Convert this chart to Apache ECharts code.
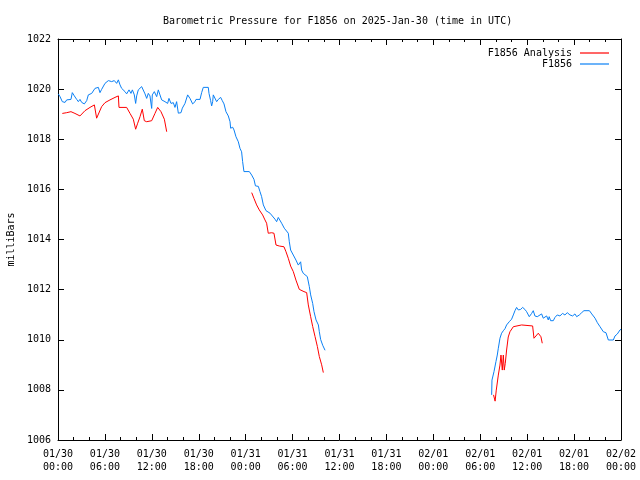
<!DOCTYPE html>
<html>
<head>
<meta charset="utf-8">
<script src="https://cdn.jsdelivr.net/npm/echarts@6/dist/echarts.min.js"></script>
<style>html,body{margin:0;padding:0;background:#fff}#c{width:640px;height:480px}</style>
</head>
<body>
<div id="c"></div>
<script>
// hours since 2025-01-30 00:00 UTC
var tickLabels = ['01/30\n00:00','01/30\n06:00','01/30\n12:00','01/30\n18:00','01/31\n00:00','01/31\n06:00','01/31\n12:00','01/31\n18:00','02/01\n00:00','02/01\n06:00','02/01\n12:00','02/01\n18:00','02/02\n00:00'];

var blueHours = [0.04,0.26,0.55,0.90,1.11,1.66,1.83,2.09,2.39,2.60,2.81,3.03,3.37,3.67,3.88,4.31,4.73,4.94,5.16,5.37,5.58,6.01,6.44,6.65,6.86,7.20,7.50,7.72,7.93,8.14,8.57,8.78,9.08,9.33,9.51,9.76,9.93,10.06,10.27,10.49,10.70,10.91,11.13,11.34,11.55,11.76,11.98,12.06,12.32,12.62,12.83,13.04,13.26,13.68,14.02,14.19,14.45,14.75,14.96,15.17,15.39,15.73,15.90,16.03,16.24,16.58,16.88,17.22,17.52,17.65,18.16,18.37,18.58,19.22,19.31,19.52,19.65,19.78,19.86,20.08,20.29,20.50,20.80,21.01,21.23,21.48,21.78,22.00,22.08,22.34,22.51,22.76,23.06,23.27,23.48,23.61,23.78,24.47,24.77,24.98,25.06,25.25,25.62,25.83,26.04,26.26,26.60,27.11,27.32,27.75,27.96,28.17,28.39,28.60,28.94,29.45,29.58,29.75,30.09,30.43,30.73,31.03,31.16,31.37,31.88,32.14,32.31,32.57,32.74,33.00,33.30,33.42,33.59,33.85,34.15,
  45.00,
  55.46,55.50,55.76,56.01,56.18,56.31,56.52,56.73,56.95,57.16,57.37,57.71,58.01,58.23,58.44,58.65,58.86,59.16,59.42,59.71,59.93,60.27,60.57,60.78,60.99,61.29,61.85,62.06,62.49,62.70,62.82,63.00,63.34,63.55,63.85,64.19,64.53,64.83,65.13,65.47,65.81,66.11,66.33,66.67,66.97,67.26,67.96,68.26,68.68,68.98,69.32,69.74,70.08,70.38,71.02,71.23,71.53,71.87,72.00];
var bluePressure = [1019.81,1019.70,1019.50,1019.47,1019.57,1019.59,1019.86,1019.73,1019.59,1019.50,1019.59,1019.47,1019.41,1019.54,1019.77,1019.83,1020.03,1019.97,1020.07,1019.86,1019.99,1020.23,1020.34,1020.39,1020.30,1020.34,1020.23,1020.37,1020.17,1020.03,1019.90,1019.81,1019.97,1019.83,1019.97,1019.77,1019.43,1019.73,1019.97,1020.03,1020.10,1020.03,1019.81,1019.63,1019.83,1019.73,1019.23,1019.77,1019.90,1019.70,1019.97,1019.77,1019.57,1019.50,1019.43,1019.63,1019.43,1019.46,1019.27,1019.50,1019.04,1019.06,1019.24,1019.30,1019.43,1019.77,1019.63,1019.41,1019.50,1019.59,1019.59,1019.86,1020.07,1020.07,1019.83,1019.54,1019.33,1019.50,1019.77,1019.70,1019.50,1019.59,1019.67,1019.54,1019.41,1019.10,1018.93,1018.70,1018.44,1018.48,1018.37,1018.10,1017.90,1017.64,1017.50,1017.11,1016.71,1016.71,1016.57,1016.51,1016.40,1016.14,1016.12,1015.91,1015.71,1015.38,1015.15,1015.05,1014.98,1014.81,1014.71,1014.88,1014.85,1014.65,1014.45,1014.25,1013.91,1013.58,1013.38,1013.18,1012.98,1013.11,1012.78,1012.65,1012.52,1012.12,1011.79,1011.45,1011.12,1010.79,1010.59,1010.32,1010.01,1009.78,1009.58,
  null,
  1007.80,1008.39,1008.73,1009.13,1009.39,1009.66,1010.06,1010.26,1010.36,1010.44,1010.59,1010.72,1010.82,1010.99,1011.16,1011.29,1011.19,1011.21,1011.29,1011.21,1011.12,1010.92,1011.05,1011.16,1010.95,1010.92,1011.03,1010.86,1010.95,1010.79,1010.92,1010.76,1010.76,1010.89,1010.99,1010.95,1011.05,1010.99,1011.08,1010.99,1010.95,1011.03,1010.92,1010.99,1011.08,1011.16,1011.16,1011.03,1010.86,1010.68,1010.52,1010.32,1010.28,1009.99,1009.99,1010.15,1010.23,1010.39,1010.42];

var redHours = [0.55,1.11,1.66,2.17,2.81,3.45,4.09,4.65,4.82,4.94,5.58,6.01,6.65,7.29,7.72,7.80,8.78,9.21,9.63,9.93,10.19,10.49,10.78,11.04,11.34,11.98,12.40,12.75,13.17,13.60,13.81,13.90,
  19.00,
  24.77,25.06,25.40,25.74,26.17,26.47,26.68,26.89,27.32,27.62,27.88,28.30,28.90,29.16,29.45,29.75,30.09,30.43,30.86,31.46,31.80,32.01,32.31,32.57,32.87,33.17,33.42,33.72,33.93,
  45.00,
  55.70,55.90,56.05,56.31,56.52,56.65,56.82,56.95,57.07,57.20,57.37,57.58,57.80,58.01,58.23,58.44,59.29,60.70,60.87,61.12,61.42,61.63,61.76,61.93];
var redPressure = [1019.03,1019.06,1019.10,1019.03,1018.93,1019.14,1019.27,1019.37,1019.41,1018.84,1019.30,1019.46,1019.57,1019.67,1019.73,1019.27,1019.27,1019.03,1018.80,1018.40,1018.64,1018.90,1019.20,1018.74,1018.70,1018.74,1019.03,1019.27,1019.10,1018.80,1018.77,1018.30,
  null,
  1015.87,1015.64,1015.38,1015.18,1014.98,1014.78,1014.65,1014.25,1014.27,1014.25,1013.78,1013.74,1013.71,1013.51,1013.25,1012.94,1012.72,1012.38,1012.01,1011.92,1011.88,1011.39,1010.92,1010.53,1010.13,1009.73,1009.33,1009.00,1008.69,
  null,
  1007.80,1007.55,1007.99,1008.59,1008.99,1009.39,1008.79,1009.39,1008.79,1009.06,1009.59,1010.11,1010.32,1010.39,1010.52,1010.59,1010.59,1010.55,1010.06,1010.15,1010.26,1010.32,1010.12,1009.86];

function pairs(hs, ps) {
  return hs.map(function (h, i) { return [h, ps[i] === null ? '-' : ps[i]]; });
}

var FONT = 'DejaVu Sans Mono';
var chart = echarts.init(document.getElementById('c'), null, {renderer: 'canvas'});
var axisCommon = {
  axisLine: {show: true, onZero: false, lineStyle: {color: '#000', width: 1}},
  splitLine: {show: false}
};
chart.setOption({
  animation: false,
  backgroundColor: '#fff',
  title: {
    text: 'Barometric Pressure for F1856 on 2025-Jan-30 (time in UTC)',
    left: 158, top: 11,
    textStyle: {fontFamily: FONT, fontSize: 10, fontWeight: 'normal', color: '#000'}
  },
  legend: {
    orient: 'vertical', right: 26, top: 43, align: 'right',
    itemWidth: 29, itemHeight: 1.2, itemGap: 1,
    icon: 'rect',
    data: ['F1856 Analysis', 'F1856'],
    textStyle: {fontFamily: FONT, fontSize: 10, color: '#000', padding: [0, 3, 0, 0]}
  },
  grid: {left: 58, right: 19, top: 39, bottom: 40, containLabel: false, outerBoundsMode: 'none'},
  xAxis: [
    Object.assign({}, axisCommon, {
      type: 'value', min: 0, max: 72, interval: 6, position: 'bottom',
      axisTick: {show: true, inside: true, length: 6, lineStyle: {color: '#000'}},
      minorTick: {show: true, splitNumber: 3, length: 3, lineStyle: {color: '#000'}},
      axisLabel: {
        margin: 8, fontFamily: FONT, fontSize: 10, color: '#000', lineHeight: 13,
        formatter: function (v) { return tickLabels[Math.round(v / 6)]; }
      }
    }),
    Object.assign({}, axisCommon, {
      type: 'value', min: 0, max: 72, interval: 6, position: 'top',
      axisTick: {show: true, inside: true, length: 6, lineStyle: {color: '#000'}},
      minorTick: {show: true, splitNumber: 3, length: 3, lineStyle: {color: '#000'}},
      axisLabel: {show: false}
    })
  ],
  yAxis: [
    Object.assign({}, axisCommon, {
      type: 'value', min: 1006, max: 1022, interval: 2, position: 'left',
      name: 'milliBars', nameLocation: 'middle', nameGap: 41, nameRotate: 90,
      nameTextStyle: {fontFamily: FONT, fontSize: 10, color: '#000'},
      axisTick: {show: true, inside: true, length: 6, lineStyle: {color: '#000'}},
      axisLabel: {margin: 7, fontFamily: FONT, fontSize: 10, color: '#000',
        formatter: function (v) { return String(v); }}
    }),
    Object.assign({}, axisCommon, {
      type: 'value', min: 1006, max: 1022, interval: 2, position: 'right',
      axisTick: {show: true, inside: true, length: 6, lineStyle: {color: '#000'}},
      axisLabel: {show: false}
    })
  ],
  series: [
    {
      name: 'F1856 Analysis', type: 'line', showSymbol: false, connectNulls: false,
      color: '#ff0000', lineStyle: {width: 1, color: '#ff0000'},
      data: pairs(redHours, redPressure), z: 3
    },
    {
      name: 'F1856', type: 'line', showSymbol: false, connectNulls: false,
      color: '#0a80f5', lineStyle: {width: 1, color: '#0a80f5'},
      data: pairs(blueHours, bluePressure), z: 2
    }
  ]
});
</script>
</body>
</html>
